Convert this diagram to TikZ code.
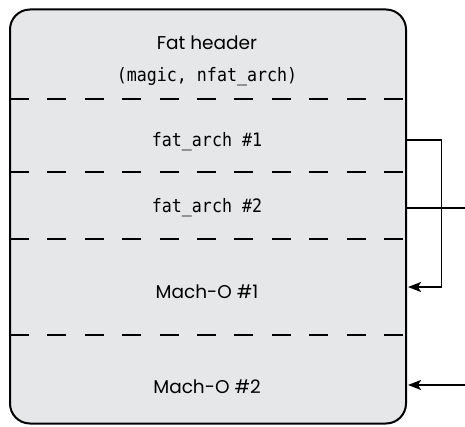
\documentclass[tikz,border=0pt]{standalone}
\usepackage{fontspec}
\setmainfont{Poppins}
\newfontfamily\codefont[FakeStretch=0.9]{DejaVu Sans Mono}
\usetikzlibrary{arrows.meta}
\definecolor{boxfill}{HTML}{E6E7E8}
\tikzset{
  sectline/.style={line width=2pt, dash pattern=on 19pt off 18.4pt},
  label/.style={anchor=base, inner sep=0pt, font=\fontsize{18.5}{18.5}\selectfont},
  codelabel/.style={anchor=base, inner sep=0pt, font=\codefont\fontsize{18.5}{18.5}\selectfont},
  conn/.style={line width=1.4pt},
  arr/.style={conn, -{Stealth[length=13pt,width=10pt,inset=3pt]}}
}
\begin{document}
\begin{tikzpicture}[x=1pt,y=-1pt]
\useasboundingbox (0,0) rectangle (465,427);
\draw[line width=2pt, fill=boxfill, rounded corners=20pt] (10,9.5) rectangle (406,423.5);
\foreach \yy in {99.5,172,239.5,334.5}
  \draw[sectline] (10,\yy) -- (406,\yy);
\node[label] (hdr) at (207,50) {Fat header};
\node[codelabel] (hdrf) at (207,82) {(magic, nfat\_arch)};
\node[codelabel] (fa1) at (207,146.5) {fat\_arch \#1};
\node[codelabel] (fa2) at (207,212.5) {fat\_arch \#2};
\node[label] (mo1) at (207,298) {Mach-O \#1};
\node[label] (mo2) at (207,393) {Mach-O \#2};
\coordinate (a1s) at (407,140);
\coordinate (a1c) at (441.5,140);
\coordinate (a1e) at (408,287);
\coordinate (a2s) at (407,208);
\coordinate (a2e) at (465,208);
\coordinate (a3s) at (465,385);
\coordinate (a3e) at (408,385);
\draw[arr] (a1s) -- (a1c) |- (a1e);
\draw[conn] (a2s) -- (a2e);
\draw[arr] (a3s) -- (a3e);
\end{tikzpicture}
\end{document}
